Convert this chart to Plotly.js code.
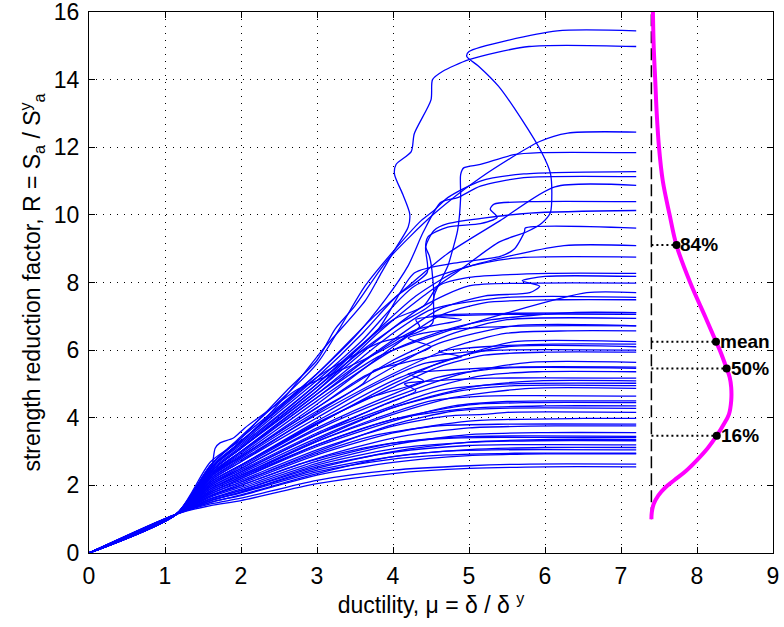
<!DOCTYPE html>
<html>
<head>
<meta charset="utf-8">
<script src="https://cdn.plot.ly/plotly-3.0.1.min.js"></script>
<style>html,body{margin:0;padding:0;background:#fff;}#chart{width:784px;height:627px;}</style>
</head>
<body>
<div id="chart"></div>
<script>
// IDA curves: ductility (mu) and strength reduction factor (R)
const idaMu = [
 [0,1.15,1.6,2,3,4,5,6,7.2],
 [0,1.15,1.6,2,3,4,5,5.8,7.2],
 [0,1.15,1.6,2,3,4,5,6,7.2],
 [0,1.15,1.6,2,3,3.9,4.7,5.6,7.2],
 [0,1.15,1.6,2,3,4,4.6,5.3,7.2],
 [0,1.15,1.6,2,3,4,5,6,7.2],
 [0,1.15,1.6,2,3,4,5,5.9,7.2],
 [0,1.15,1.6,2,3,4,5,6.1,7.2],
 [0,1.15,1.6,2,3,4,4.8,5.6,7.2],
 [0,1.15,1.6,2,2.8,3.6,4.4,5.1,7.2],
 [0,1.15,1.6,2,3,4,5,6,7.2],
 [0,1.15,1.6,2,3,4,5,6.3,7.2],
 [0,1.15,1.6,2,3,3.8,4.6,5.5,7.2],
 [0,1.15,1.6,2,3,4,5,6.5,7.2],
 [0,1.15,1.6,2,3,4,4.7,5.2,5.5,7.2],
 [0,1.15,1.6,2,3,4,4.8,5.4,7.2],
 [0,1.15,1.6,2,3,4,5,6,7.2],
 [0,1.15,1.6,2,3,4,4.8,5.5,6.2,7.2],
 [0,1.15,1.6,2,3,3.8,4.5,5.2,7.2],
 [0,1.15,1.6,2,3,4,4.8,5.8,7.2],
 [0,1.15,1.6,2,3,4,4.6,5.5,7.2],
 [0,1.15,1.6,2,3,4,5,5.9,7.2],
 [0,1.15,1.6,2,3,3.9,4.3,4.15,4.6,5.3,7.2],
 [0,1.15,1.6,2,3,4,4.7,5.2,5.9,7.2],
 [0,1.15,1.6,2,3,4,4.6,5.4,7.2],
 [0,1.15,1.6,2,2.9,3.7,4.4,4.2,4.8,5.6,7.2],
 [0,1.15,1.6,2,3,4,4.9,5.8,7.2],
 [0,1.15,1.6,2,3,4,4.6,5.2,6.0,7.2],
 [0,1.15,1.6,2,3,4,4.7,5.5,7.2],
 [0,1.15,1.6,2,3,3.7,4.4,4.9,4.6,5.2,6.1,7.2],
 [0,1.15,1.6,2,3,4,5,5.6,7.2],
 [0,1.15,1.6,2,3,4,4.8,5.5,6.3,7.2],
 [0,1.15,1.6,2,3,4,4.6,5.6,7.2],
 [0,1.15,1.6,2,3,3.6,4.2,4.5,4.2,4.4,5.0,5.9,7.2],
 [0,1.15,1.6,2,3,4,4.8,5.5,7.2],
 [0,1.15,1.5,1.62,1.66,1.72,1.9,2.05,2.46,2.73,3.1,3.6,4.1,4.35,4.3,4.6,5.6,7.2],
 [0,1.15,1.6,2,3,4,4.7,5.3,6.35,7.2],
 [0,1.15,1.6,2,3,4,4.6,5.2,6.2,7.2],
 [0,1.15,1.6,2,3,3.6,4.0,4.5,5.5,7.2],
 [0,1.15,1.6,2,3,3.8,4.5,5.5,6.55,7.2],
 [0,1.15,1.6,2,3,3.8,4.4,5.0,5.9,7.2],
 [0,1.15,1.6,2,3,4,4.6,5.2,5.8,5.93,5.7,6.0,7.2],
 [0,1.15,1.6,2,3,3.5,4.0,4.4,4.6,5.0,6.05,7.2],
 [0,1.15,1.6,2,3,3.8,4.3,4.9,5.6,7.2],
 [0,1.15,1.6,2,3,3.6,4.28,5.15,6.25,7.2],
 [0,1.15,1.6,2,3,3.8,4.28,4.8,5.41,5.6,5.73,5.74,7.2],
 [0,1.15,1.6,2,3,3.6,4.05,4.45,4.43,4.54,4.72,5.8,7.2],
 [0,1.15,1.6,2,3,3.6,4.1,4.52,4.52,4.48,4.43,4.46,4.72,5.15,5.37,5.28,5.33,5.8,7.2],
 [0,1.15,1.6,2,3,3.76,4.2,4.72,5.41,6.13,7.2],
 [0,1.15,1.6,2,3,3.5,3.9,4.2,4.4,4.63,4.85,5.15,5.72,7.2],
 [0,1.15,1.6,2,3,3.63,3.98,4.37,4.54,4.72,5.15,5.72,7.2],
 [0,1.15,1.6,2,3,3.8,4.3,4.52,4.54,4.72,4.76,4.85,4.89,4.89,4.93,5.15,5.59,5.93,7.2],
 [0,1.15,1.6,2,2.6,3.0,3.24,3.5,3.93,4.54,5.15,5.93,6.3,7.2],
 [0,1.15,1.6,2.1,2.64,3.07,3.64,3.85,4.02,4.2,4.22,4.13,4.02,4.04,4.24,4.28,4.5,4.52,4.65,5.0,5.79,7.2],
 [0,1.15,1.6,2,3,3.8,4.4,4.9,5.4,5.76,5.96,6.07,6.09,6.07,5.96,5.7,5.39,5.13,4.97,5.0,6.16,7.2],
 [0,1.15,1.6,2,3,4,4.9,5.6,7.2],
 [0,1.15,1.6,2,3,3.6,3.75,4.1,4.6,5.4,7.2],
 [0,1.15,1.6,2,3,4,5,5.8,7.2],
 [0,1.15,1.6,2,3,4,5,7.2],
 [0,1.15,1.6,2,3,3.7,4.3,4.9,4.5,4.7,5.6,7.2]
];
const idaR = [
 [0,1.15,1.4,1.55,2.05,2.35,2.5,2.55,2.55],
 [0,1.15,1.45,1.62,2.15,2.45,2.58,2.63,2.63],
 [0,1.15,1.5,1.7,2.3,2.68,2.88,2.93,2.93],
 [0,1.15,1.55,1.78,2.4,2.75,2.9,2.95,2.95],
 [0,1.15,1.55,1.8,2.45,2.85,3.0,3.05,3.05],
 [0,1.15,1.5,1.72,2.35,2.85,3.06,3.12,3.12],
 [0,1.15,1.6,1.85,2.6,3.08,3.27,3.32,3.32],
 [0,1.15,1.55,1.8,2.5,3.0,3.28,3.36,3.36],
 [0,1.15,1.65,1.95,2.72,3.25,3.4,3.42,3.42],
 [0,1.15,1.7,2.0,2.65,3.1,3.36,3.45,3.45],
 [0,1.15,1.6,1.9,2.65,3.2,3.5,3.56,3.56],
 [0,1.15,1.68,2.0,2.8,3.4,3.7,3.76,3.76],
 [0,1.15,1.75,2.1,2.95,3.5,3.76,3.81,3.81],
 [0,1.15,1.7,2.05,2.9,3.55,3.9,3.98,3.98],
 [0,1.15,1.8,2.15,3.05,3.75,4.05,4.1,4.16,4.16],
 [0,1.15,1.75,2.1,3.0,3.8,4.2,4.28,4.28],
 [0,1.15,1.85,2.25,3.2,3.95,4.28,4.35,4.35],
 [0,1.15,1.8,2.2,3.15,3.9,4.35,4.48,4.5,4.5],
 [0,1.15,1.9,2.3,3.3,4.0,4.5,4.64,4.64],
 [0,1.15,1.85,2.25,3.3,4.1,4.6,4.87,4.87],
 [0,1.15,1.95,2.4,3.5,4.35,4.8,5.0,5.02],
 [0,1.15,1.9,2.35,3.4,4.3,4.9,5.09,5.09],
 [0,1.15,2.0,2.45,3.55,4.4,4.8,5.0,5.1,5.17,5.17],
 [0,1.15,1.95,2.4,3.5,4.5,5.0,5.25,5.36,5.36],
 [0,1.15,2.05,2.5,3.7,4.7,5.2,5.46,5.46],
 [0,1.15,2.1,2.6,3.7,4.6,5.1,5.3,5.42,5.5,5.5],
 [0,1.15,2.0,2.5,3.65,4.6,5.3,5.64,5.64],
 [0,1.15,2.1,2.6,3.85,4.9,5.5,5.85,5.94,5.94],
 [0,1.15,2.05,2.55,3.8,5.0,5.7,6.1,6.1],
 [0,1.15,2.15,2.7,4.0,4.9,5.6,5.8,5.95,6.1,6.18,6.18],
 [0,1.15,2.1,2.6,3.9,5.1,5.9,6.25,6.25],
 [0,1.15,2.2,2.75,4.1,5.3,6.1,6.5,6.57,6.57],
 [0,1.15,2.15,2.7,4.15,5.5,6.2,6.72,6.72],
 [0,1.15,2.3,2.85,4.3,5.2,5.8,6.1,6.35,6.5,6.65,6.72,6.72],
 [0,1.15,2.25,2.85,4.3,5.7,6.5,6.9,6.94],
 [0,1.15,2.0,2.6,3.1,3.25,3.4,3.7,4.38,4.82,5.2,5.7,6.3,6.7,6.9,7.0,7.06,7.06],
 [0,1.15,2.3,2.9,4.5,6.0,6.6,6.9,7.11,7.11],
 [0,1.15,2.25,2.85,4.4,6.1,7.0,7.4,7.49,7.49],
 [0,1.15,2.35,3.0,4.7,5.8,6.5,7.2,7.56,7.56],
 [0,1.15,2.3,2.95,4.6,5.8,6.4,7.1,7.7,7.7],
 [0,1.15,2.4,3.1,4.8,6.3,7.3,7.9,7.98,7.98],
 [0,1.15,2.3,3.0,4.7,6.3,7.2,7.6,7.7,7.89,8.05,8.18,8.18],
 [0,1.15,2.45,3.15,5.0,6.0,6.9,7.3,7.9,8.15,8.27,8.27],
 [0,1.15,2.4,3.1,4.9,6.6,7.6,8.4,8.72,8.75],
 [0,1.15,2.5,3.25,5.1,6.3,7.89,8.57,9.09,9.09],
 [0,1.15,2.5,3.2,5.0,6.6,8.28,8.57,8.77,9.0,9.5,9.61,9.61],
 [0,1.15,2.55,3.3,5.2,6.5,7.6,8.3,9.06,9.54,9.74,10.05,10.13],
 [0,1.15,2.4,3.1,4.9,6.0,6.8,7.4,8.18,8.77,9.06,9.35,9.64,9.74,9.93,10.17,10.32,10.39,10.39],
 [0,1.15,2.6,3.4,5.3,7.02,7.89,8.86,9.83,10.83,10.87],
 [0,1.15,2.5,3.3,5.3,6.4,7.5,8.5,9.5,10.37,10.51,10.85,11.1,11.13],
 [0,1.15,2.6,3.45,5.6,7.89,8.86,9.83,10.13,10.51,11.0,11.21,11.28],
 [0,1.15,2.5,3.3,5.2,6.2,6.5,6.8,7.6,8.48,8.77,9.54,10.51,11.19,11.39,11.49,11.78,11.84,11.84],
 [0,1.15,2.6,3.4,4.8,5.7,6.63,7.31,8.67,10.03,11.1,12.17,12.42,12.45],
 [0,1.15,2.7,3.5,4.78,6.0,7.48,8.3,8.96,9.64,10.03,10.6,11.2,11.49,11.87,12.4,13.4,14.0,14.24,14.59,14.98,14.98],
 [0,1.15,2.4,3.1,4.8,6.5,7.6,8.4,9.2,9.5,9.76,10.06,10.65,11.24,11.83,12.8,13.8,14.39,14.69,14.83,15.44,15.44],
 [0,1.15,1.9,2.3,3.35,4.3,4.8,4.95,4.95],
 [0,1.15,2.2,2.8,4.2,5.0,5.4,5.6,5.85,6.0,6.0],
 [0,1.15,1.8,2.2,3.2,3.95,4.38,4.45,4.45],
 [0,1.15,1.6,1.85,2.55,2.98,3.18,3.2],
 [0,1.15,2.35,3.0,4.6,5.8,6.6,6.9,7.0,7.05,7.09,7.11]
];

// Fitted distribution of R (drawn sideways from the baseline)
const pdfBaseMu = 7.4;
const pdfBaseR = [1, 16];
const pdfMu = [7.40,7.405,7.43,7.49,7.58,7.70,7.85,8.0,8.14,8.26,8.35,8.42,8.45,8.45,8.43,8.39,8.30,8.25,8.11,7.91,7.73,7.64,7.55,7.50,7.47,7.45,7.43,7.42];
const pdfR  = [1.0,1.2,1.45,1.7,1.93,2.15,2.42,2.75,3.1,3.47,3.8,4.1,4.5,4.9,5.2,5.46,6.0,6.25,6.98,8.0,9.1,10.0,11.0,12.0,13.0,14.0,15.0,16.0];

// Percentile markers
const pctLabels = ['84%', 'mean', '50%', '16%'];
const pctMu = [7.73, 8.25, 8.39, 8.26];
const pctR  = [9.11, 6.25, 5.46, 3.47];

// Axis ticks
const xTicks = [0,1,2,3,4,5,6,7,8,9];
const yTicks = [0,2,4,6,8,10,12,14,16];

const FONT = '"Liberation Sans", Arial, sans-serif';
const traces = [];
for (let i = 0; i < idaMu.length; i++) {
  traces.push({
    x: idaMu[i], y: idaR[i], type: 'scatter', mode: 'lines',
    line: {color: '#0000ff', width: 1.3, shape: 'spline', smoothing: 0.7},
    hoverinfo: 'skip', showlegend: false, cliponaxis: true
  });
}
traces.push({
  x: [pdfBaseMu, pdfBaseMu], y: pdfBaseR, type: 'scatter', mode: 'lines',
  line: {color: '#000', width: 1.5, dash: '12px,5px'}, showlegend: false
});
for (let i = 0; i < pctR.length; i++) {
  traces.push({
    x: [pdfBaseMu, pctMu[i]], y: [pctR[i], pctR[i]], type: 'scatter', mode: 'lines',
    line: {color: '#000', width: 2, dash: '2px,3px'}, showlegend: false
  });
}
traces.push({
  x: pdfMu, y: pdfR, type: 'scatter', mode: 'lines',
  line: {color: '#ff00ff', width: 4, shape: 'spline', smoothing: 1}, showlegend: false
});
traces.push({
  x: pctMu, y: pctR, type: 'scatter', mode: 'markers',
  marker: {color: '#000', size: 8}, showlegend: false
});

const annotations = pctLabels.map((t, i) => ({
  x: pctMu[i], y: pctR[i], text: '<b>' + t + '</b>', showarrow: false,
  xanchor: 'left', yanchor: 'middle', xshift: 2,
  font: {family: FONT, size: 19, color: '#000'}
}));

const axisCommon = {
  showline: true, linecolor: '#000', linewidth: 1, mirror: 'allticks',
  ticks: 'inside', ticklen: 6, tickcolor: '#000',
  showgrid: true, gridcolor: '#000', gridwidth: 1, griddash: '1px,6px',
  zeroline: false, tickfont: {family: FONT, size: 23, color: '#000'},
  ticklabeloverflow: 'allow'
};

const layout = {
  width: 784, height: 627,
  margin: {l: 89, r: 11, t: 12, b: 74},
  paper_bgcolor: '#fff', plot_bgcolor: '#fff',
  showlegend: false,
  xaxis: Object.assign({}, axisCommon, {
    range: [0, 9], tickvals: xTicks, ticktext: xTicks.map(String),
    ticklabelstandoff: 2,
    title: {text: 'ductility, μ = δ / δ <sup>y</sup>', font: {family: FONT, size: 23, color: '#000'}, standoff: 4}
  }),
  yaxis: Object.assign({}, axisCommon, {
    range: [0, 16], tickvals: yTicks, ticktext: yTicks.map(String),
    ticklabelstandoff: 4,
    title: {text: 'strength reduction factor, R = S<sub>a</sub> / S<sup>y</sup><sub>a</sub>', font: {family: FONT, size: 23, color: '#000'}, standoff: 6}
  }),
  annotations: annotations
};

Plotly.newPlot('chart', traces, layout, {displayModeBar: false, staticPlot: true});
</script>
</body>
</html>
